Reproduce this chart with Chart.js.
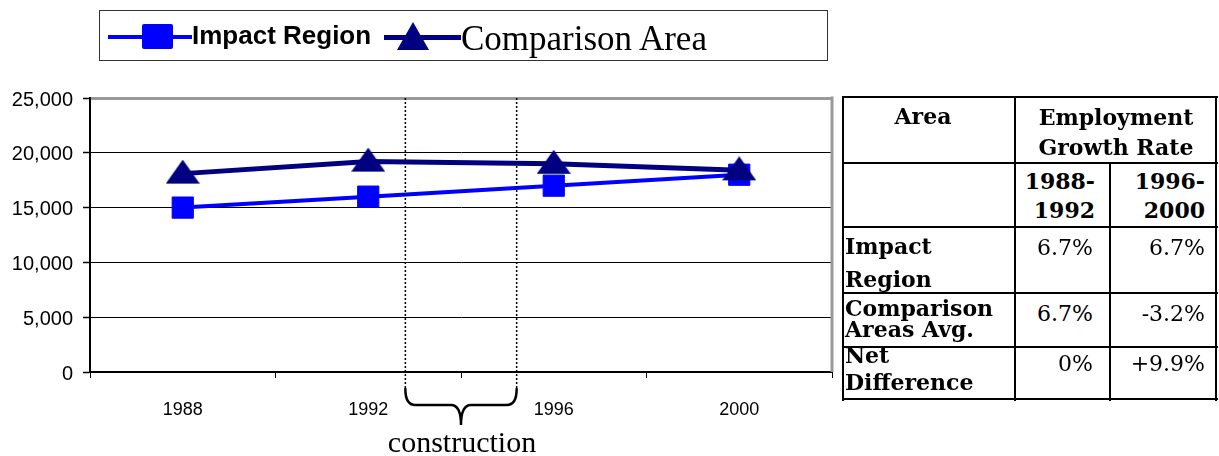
<!DOCTYPE html>
<html><head><meta charset="utf-8">
<script src="https://cdn.jsdelivr.net/npm/chart.js@4.4.1/dist/chart.umd.min.js"></script>
<style>
html,body{margin:0;padding:0;background:#fff}
body{position:relative;width:1219px;height:456px;overflow:hidden}
#chartBox{position:absolute;left:0;top:0;width:850px;height:456px}
.abs{position:absolute;white-space:nowrap;color:#000}
.ln{position:absolute;background:#000}
#legend{position:absolute;left:99px;top:10px;width:729px;height:51px;border:1.5px solid #333;box-sizing:border-box}
</style></head>
<body>
<div id="chartBox"><canvas id="c"></canvas></div>
<div id="legend"></div>
<div id="overlay"></div>
<script>
// ---------- data ----------
const categories = ['1988', '1992', '1996', '2000'];
const impactRegion = [15000, 16000, 17000, 18000];
const comparisonArea = [18100, 19200, 19000, 18400];
const yTicks = [0, 5000, 10000, 15000, 20000, 25000];
const constructionYears = [1992.8, 1995.2];
const constructionLabel = 'construction';
const seriesNames = ['Impact Region', 'Comparison Area'];
const tableHeader = ['Area', 'Employment\nGrowth Rate'];
const periods = ['1988-\n1992', '1996-\n2000'];
const rowLabels = ['Impact\nRegion', 'Comparison\nAreas Avg.', 'Net\nDifference'];
const impactRates = ['6.7%', '6.7%'];
const comparisonRates = ['6.7%', '-3.2%'];
const netDifference = ['0%', '+9.9%'];

// ---------- text helper ----------
const BASE = {'DejaVu Serif': 0.846, 'Liberation Sans': 0.8465, 'Liberation Serif': 0.8375};
const overlay = document.getElementById('overlay');
function placeText(parent, text, o) {
  const d = document.createElement('div');
  d.className = 'abs';
  d.textContent = text;
  d.style.font = (o.weight || 'normal') + ' ' + o.size + 'px "' + o.family + '"';
  d.style.lineHeight = o.size + 'px';
  d.style.top = (o.baseline - BASE[o.family] * o.size) + 'px';
  if (o.align === 'right') d.style.right = (1219 - o.x) + 'px';
  else if (o.align === 'center') { d.style.left = (o.x - 300) + 'px'; d.style.width = '600px'; d.style.textAlign = 'center'; }
  else d.style.left = o.x + 'px';
  parent.appendChild(d);
  return d;
}
function placeLines(text, o, gaps) {
  let b = o.baseline;
  text.split('\n').forEach((t, i) => {
    if (i > 0) b += gaps[i - 1];
    placeText(overlay, t, Object.assign({}, o, {baseline: b}));
  });
}
function box(parent, x, y, w, h, color, extra) {
  const d = document.createElement('div');
  d.className = 'ln';
  d.style.left = x + 'px'; d.style.top = y + 'px'; d.style.width = w + 'px'; d.style.height = h + 'px';
  d.style.background = color || '#000';
  if (extra) Object.assign(d.style, extra);
  parent.appendChild(d);
  return d;
}

// ---------- legend ----------
const legend = document.getElementById('legend');
box(legend, 8, 24, 84, 4, '#0000ff');
box(legend, 42, 13, 31, 25, '#0000ff', {borderRadius: '2px'});
placeText(legend, seriesNames[0], {x: 92, baseline: 33, family: 'Liberation Sans', size: 26, weight: 'bold'});
box(legend, 284, 24, 77, 5, '#000080');
const tri = document.createElement('div');
Object.assign(tri.style, {position: 'absolute', left: '297px', top: '11px', width: 0, height: 0,
  borderLeft: '16px solid transparent', borderRight: '16px solid transparent', borderBottom: '28px solid #000080'});
legend.appendChild(tri);
placeText(legend, seriesNames[1], {x: 361, baseline: 39, family: 'Liberation Serif', size: 35});

// ---------- construction label ----------
placeText(overlay, constructionLabel, {x: 462, baseline: 452, align: 'center', family: 'Liberation Serif', size: 30});

// ---------- table ----------
const vLines = [[843, 97, 400], [1015, 97, 400], [1110, 163, 400], [1216, 97, 400]];
const hLines = [97, 163, 227, 293, 347, 399];
vLines.forEach(v => box(overlay, v[0] - 1, v[1] - 1, 2, v[2] - v[1] + 2));
hLines.forEach(y => box(overlay, 842, y - 1, 376, 2));
const boldT = {family: 'DejaVu Serif', size: 22, weight: 'bold'};
placeLines(tableHeader[0], Object.assign({x: 923, baseline: 124, align: 'center'}, boldT), []);
placeLines(tableHeader[1], Object.assign({x: 1116, baseline: 125, align: 'center'}, boldT), [30]);
placeLines(periods[0], Object.assign({x: 1095, baseline: 189, align: 'right'}, boldT), [29]);
placeLines(periods[1], Object.assign({x: 1205, baseline: 189, align: 'right'}, boldT), [29]);
const rowBase = [254, 316, 363];
const rowGap = [33, 21, 27];
rowLabels.forEach((t, i) => placeLines(t, Object.assign({x: 845, baseline: rowBase[i], align: 'left'}, boldT), [rowGap[i]]));
const valRows = [impactRates, comparisonRates, netDifference];
const valBase = [256, 322, 372];
const valRight = [1093, 1205];
valRows.forEach((r, i) => r.forEach((v, j) => placeText(overlay, v, {x: valRight[j], baseline: valBase[i], align: 'right', family: 'DejaVu Serif', size: 22})));

// ---------- chart ----------
const triImg = document.createElement('canvas');
triImg.width = 34; triImg.height = 28;
(function () {
  const g = triImg.getContext('2d');
  g.fillStyle = '#000080';
  g.beginPath(); g.moveTo(17, 0); g.lineTo(34, 24); g.lineTo(0, 24); g.closePath(); g.fill();
})();

const yearToIndex = y => (y - Number(categories[0])) / (Number(categories[1]) - Number(categories[0]));

const decor = {
  id: 'decor',
  afterDraw(chart) {
    const ctx = chart.ctx, a = chart.chartArea, xs = chart.scales.x;
    ctx.save();
    ctx.strokeStyle = '#999'; ctx.lineWidth = 3;
    ctx.beginPath(); ctx.moveTo(a.right, a.top - 1.5); ctx.lineTo(a.right, a.bottom); ctx.stroke();
    const xl = xs.getPixelForValue(yearToIndex(constructionYears[0]));
    const xr = xs.getPixelForValue(yearToIndex(constructionYears[1]));
    ctx.strokeStyle = '#000'; ctx.lineWidth = 1.5; ctx.setLineDash([2, 2]);
    [xl, xr].forEach(x => { ctx.beginPath(); ctx.moveTo(x, a.top); ctx.lineTo(x, a.bottom + 18); ctx.stroke(); });
    ctx.setLineDash([]);
    const mid = (xl + xr) / 2, yTop = a.bottom + 17, yH = a.bottom + 33, yTip = a.bottom + 53;
    ctx.lineWidth = 2.5; ctx.lineCap = 'round';
    ctx.beginPath();
    ctx.moveTo(xl, yTop);
    ctx.quadraticCurveTo(xl, yH, xl + 10, yH);
    ctx.lineTo(mid - 10, yH);
    ctx.quadraticCurveTo(mid, yH, mid, yTip);
    ctx.quadraticCurveTo(mid, yH, mid + 10, yH);
    ctx.lineTo(xr - 10, yH);
    ctx.quadraticCurveTo(xr, yH, xr, yTop);
    ctx.stroke();
    ctx.restore();
  }
};

new Chart(document.getElementById('c'), {
  type: 'line',
  data: {
    labels: categories,
    datasets: [
      {label: seriesNames[0], data: impactRegion, order: 1, borderColor: '#0000ff', backgroundColor: '#0000ff',
        borderWidth: 4, pointStyle: 'rect', pointRadius: 15, pointBorderColor: '#0000ff', pointBackgroundColor: '#0000ff',
        pointBorderWidth: 1, tension: 0, fill: false},
      {label: seriesNames[1], data: comparisonArea, order: 0, borderColor: '#000080', backgroundColor: '#000080',
        borderWidth: 5, pointStyle: triImg, pointRadius: 13, tension: 0, fill: false}
    ]
  },
  options: {
    responsive: true, maintainAspectRatio: false, animation: false,
    layout: {padding: {top: 98, right: 8, bottom: 0, left: 0}},
    plugins: {legend: {display: false}, tooltip: {enabled: false}},
    events: [],
    scales: {
      x: {
        offset: true,
        afterFit: s => { s.height = 84; },
        grid: {display: true, drawOnChartArea: false, drawTicks: true, tickLength: 6, color: '#000', offset: true},
        border: {color: '#000', width: 2},
        ticks: {color: '#000', font: {family: 'Liberation Sans', size: 18}, padding: 21, maxRotation: 0}
      },
      y: {
        min: yTicks[0], max: yTicks[yTicks.length - 1],
        afterFit: s => { s.width = 90; },
        afterBuildTicks: s => { s.ticks = yTicks.map(v => ({value: v})); },
        grid: {color: c => (c.tick && c.tick.value === 25000 ? '#999' : '#000'),
               lineWidth: c => (c.tick && c.tick.value === 25000 ? 3 : 1),
               tickColor: '#000', tickWidth: 1.5, tickLength: 7},
        border: {color: '#000', width: 2},
        ticks: {color: '#000', font: {family: 'Liberation Sans', size: 20}, padding: 10, labelOffset: 2,
                callback: v => Number(v).toLocaleString('en-US')}
      }
    }
  },
  plugins: [decor]
});
</script>
</body></html>
